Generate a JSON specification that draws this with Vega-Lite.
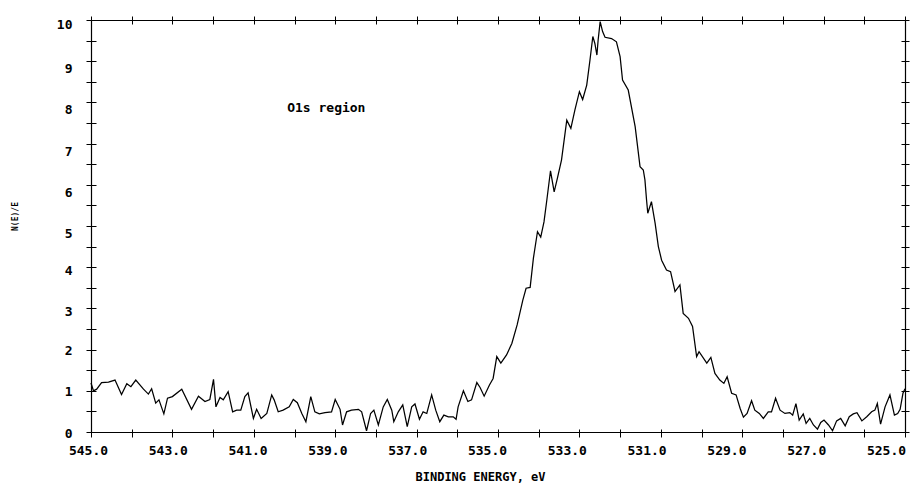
{
  "$schema": "https://vega.github.io/schema/vega-lite/v6.json",
  "width": 814,
  "height": 412,
  "autosize": {"type": "none"},
  "padding": {"left": 91, "top": 20, "right": 8, "bottom": 53},
  "background": "white",
  "config": {
    "view": {"stroke": null},
    "axis": {
      "grid": false,
      "domainColor": "black",
      "tickColor": "black",
      "labelColor": "black",
      "titleColor": "black",
      "labelFont": "DejaVu Sans Mono",
      "titleFont": "DejaVu Sans Mono",
      "domainWidth": 1.2,
      "tickWidth": 1
    }
  },
  "datasets": {
    "spectrum": [
      {"be": 545.00, "n": 1.19}, {"be": 544.94, "n": 1.00}, {"be": 544.86, "n": 1.04}, {"be": 544.74, "n": 1.20},
      {"be": 544.57, "n": 1.21}, {"be": 544.41, "n": 1.26}, {"be": 544.25, "n": 0.91}, {"be": 544.12, "n": 1.17},
      {"be": 544.02, "n": 1.10}, {"be": 543.90, "n": 1.26}, {"be": 543.71, "n": 1.04}, {"be": 543.59, "n": 0.92},
      {"be": 543.51, "n": 1.05}, {"be": 543.41, "n": 0.70}, {"be": 543.33, "n": 0.78}, {"be": 543.21, "n": 0.44},
      {"be": 543.12, "n": 0.82}, {"be": 543.00, "n": 0.86}, {"be": 542.77, "n": 1.04}, {"be": 542.53, "n": 0.55},
      {"be": 542.36, "n": 0.87}, {"be": 542.20, "n": 0.74}, {"be": 542.08, "n": 0.79}, {"be": 541.99, "n": 1.28},
      {"be": 541.93, "n": 0.61}, {"be": 541.83, "n": 0.84}, {"be": 541.75, "n": 0.78}, {"be": 541.63, "n": 0.98},
      {"be": 541.52, "n": 0.49}, {"be": 541.42, "n": 0.53}, {"be": 541.32, "n": 0.53}, {"be": 541.22, "n": 0.86},
      {"be": 541.14, "n": 0.95}, {"be": 541.01, "n": 0.33}, {"be": 540.93, "n": 0.55}, {"be": 540.82, "n": 0.33},
      {"be": 540.68, "n": 0.45}, {"be": 540.56, "n": 0.90}, {"be": 540.50, "n": 0.78}, {"be": 540.40, "n": 0.49},
      {"be": 540.28, "n": 0.53}, {"be": 540.13, "n": 0.61}, {"be": 540.03, "n": 0.79}, {"be": 539.93, "n": 0.71},
      {"be": 539.82, "n": 0.45}, {"be": 539.72, "n": 0.25}, {"be": 539.60, "n": 0.86}, {"be": 539.50, "n": 0.49},
      {"be": 539.39, "n": 0.44}, {"be": 539.25, "n": 0.47}, {"be": 539.09, "n": 0.49}, {"be": 539.00, "n": 0.79},
      {"be": 538.88, "n": 0.55}, {"be": 538.82, "n": 0.17}, {"be": 538.72, "n": 0.49}, {"be": 538.60, "n": 0.53},
      {"be": 538.43, "n": 0.55}, {"be": 538.35, "n": 0.49}, {"be": 538.23, "n": 0.03}, {"be": 538.13, "n": 0.45},
      {"be": 538.05, "n": 0.53}, {"be": 537.94, "n": 0.17}, {"be": 537.82, "n": 0.61}, {"be": 537.72, "n": 0.79},
      {"be": 537.61, "n": 0.53}, {"be": 537.56, "n": 0.25}, {"be": 537.45, "n": 0.49}, {"be": 537.34, "n": 0.66},
      {"be": 537.23, "n": 0.13}, {"be": 537.12, "n": 0.61}, {"be": 537.04, "n": 0.68}, {"be": 536.93, "n": 0.31},
      {"be": 536.84, "n": 0.49}, {"be": 536.75, "n": 0.45}, {"be": 536.63, "n": 0.90}, {"be": 536.53, "n": 0.53},
      {"be": 536.43, "n": 0.25}, {"be": 536.33, "n": 0.41}, {"be": 536.22, "n": 0.37}, {"be": 536.10, "n": 0.37},
      {"be": 536.03, "n": 0.31}, {"be": 535.98, "n": 0.61}, {"be": 535.85, "n": 1.00}, {"be": 535.74, "n": 0.74},
      {"be": 535.65, "n": 0.78}, {"be": 535.52, "n": 1.20}, {"be": 535.44, "n": 1.08}, {"be": 535.34, "n": 0.87},
      {"be": 535.21, "n": 1.14}, {"be": 535.12, "n": 1.30}, {"be": 535.03, "n": 1.83}, {"be": 534.93, "n": 1.67},
      {"be": 534.79, "n": 1.87}, {"be": 534.66, "n": 2.15}, {"be": 534.53, "n": 2.60}, {"be": 534.39, "n": 3.20},
      {"be": 534.31, "n": 3.49}, {"be": 534.21, "n": 3.51}, {"be": 534.13, "n": 4.22}, {"be": 534.03, "n": 4.86},
      {"be": 533.95, "n": 4.73}, {"be": 533.87, "n": 5.10}, {"be": 533.80, "n": 5.63}, {"be": 533.71, "n": 6.34},
      {"be": 533.62, "n": 5.83}, {"be": 533.54, "n": 6.16}, {"be": 533.44, "n": 6.60}, {"be": 533.31, "n": 7.57},
      {"be": 533.21, "n": 7.37}, {"be": 533.11, "n": 7.82}, {"be": 533.00, "n": 8.26}, {"be": 532.92, "n": 8.07},
      {"be": 532.82, "n": 8.42}, {"be": 532.74, "n": 9.03}, {"be": 532.67, "n": 9.60}, {"be": 532.62, "n": 9.43},
      {"be": 532.57, "n": 9.15}, {"be": 532.54, "n": 9.51}, {"be": 532.49, "n": 9.96}, {"be": 532.43, "n": 9.72},
      {"be": 532.37, "n": 9.58}, {"be": 532.21, "n": 9.55}, {"be": 532.09, "n": 9.47}, {"be": 532.00, "n": 9.11},
      {"be": 531.94, "n": 8.54}, {"be": 531.80, "n": 8.30}, {"be": 531.63, "n": 7.41}, {"be": 531.51, "n": 6.44},
      {"be": 531.43, "n": 6.36}, {"be": 531.39, "n": 6.12}, {"be": 531.35, "n": 5.63}, {"be": 531.32, "n": 5.31},
      {"be": 531.23, "n": 5.59}, {"be": 531.14, "n": 5.07}, {"be": 531.06, "n": 4.50}, {"be": 530.98, "n": 4.17},
      {"be": 530.86, "n": 3.93}, {"be": 530.76, "n": 3.89}, {"be": 530.65, "n": 3.41}, {"be": 530.53, "n": 3.57},
      {"be": 530.45, "n": 2.88}, {"be": 530.32, "n": 2.76}, {"be": 530.22, "n": 2.56}, {"be": 530.12, "n": 1.83},
      {"be": 530.06, "n": 1.95}, {"be": 529.87, "n": 1.67}, {"be": 529.77, "n": 1.81}, {"be": 529.67, "n": 1.42},
      {"be": 529.55, "n": 1.26}, {"be": 529.45, "n": 1.18}, {"be": 529.37, "n": 1.34}, {"be": 529.26, "n": 0.94},
      {"be": 529.15, "n": 0.90}, {"be": 529.05, "n": 0.57}, {"be": 528.97, "n": 0.36}, {"be": 528.88, "n": 0.45},
      {"be": 528.77, "n": 0.76}, {"be": 528.69, "n": 0.53}, {"be": 528.58, "n": 0.45}, {"be": 528.48, "n": 0.33},
      {"be": 528.36, "n": 0.49}, {"be": 528.28, "n": 0.49}, {"be": 528.18, "n": 0.82}, {"be": 528.07, "n": 0.53},
      {"be": 527.95, "n": 0.45}, {"be": 527.83, "n": 0.47}, {"be": 527.76, "n": 0.41}, {"be": 527.68, "n": 0.69},
      {"be": 527.60, "n": 0.29}, {"be": 527.50, "n": 0.44}, {"be": 527.43, "n": 0.21}, {"be": 527.34, "n": 0.33},
      {"be": 527.25, "n": 0.17}, {"be": 527.15, "n": 0.07}, {"be": 527.07, "n": 0.23}, {"be": 526.99, "n": 0.29},
      {"be": 526.88, "n": 0.17}, {"be": 526.78, "n": 0.03}, {"be": 526.68, "n": 0.27}, {"be": 526.58, "n": 0.33},
      {"be": 526.47, "n": 0.15}, {"be": 526.37, "n": 0.37}, {"be": 526.27, "n": 0.44}, {"be": 526.18, "n": 0.47},
      {"be": 526.06, "n": 0.27}, {"be": 525.94, "n": 0.37}, {"be": 525.82, "n": 0.49}, {"be": 525.74, "n": 0.53},
      {"be": 525.68, "n": 0.69}, {"be": 525.60, "n": 0.19}, {"be": 525.49, "n": 0.61}, {"be": 525.37, "n": 0.90},
      {"be": 525.26, "n": 0.41}, {"be": 525.18, "n": 0.45}, {"be": 525.12, "n": 0.55}, {"be": 525.05, "n": 0.94},
      {"be": 525.00, "n": 1.05}
    ]
  },
  "data": {"name": "spectrum"},
  "layer": [
    {
      "mark": {"type": "line", "color": "black", "strokeWidth": 1.25},
      "encoding": {
        "x": {
          "field": "be", "type": "quantitative",
          "scale": {"domain": [525, 545], "reverse": true, "nice": false, "zero": false},
          "axis": {
            "orient": "bottom",
            "values": [525,526,527,528,529,530,531,532,533,534,535,536,537,538,539,540,541,542,543,544,545],
            "labelExpr": "datum.value % 2 == 1 ? format(datum.value, '.1f') : ''",
            "labelOffset": {"expr": "-3 - (545 - datum.value) * 0.8"},
            "tickSize": 5, "labelPadding": 7, "labelFontSize": 13, "labelFontWeight": "bold",
            "labelFlush": false, "labelOverlap": false,
            "title": "BINDING ENERGY, eV", "titleFontSize": 12, "titleFontWeight": "bold",
            "titleX": 389, "titleY": 44, "titleBaseline": "middle", "titleAlign": "center"
          }
        },
        "y": {
          "field": "n", "type": "quantitative",
          "scale": {"domain": [0, 10], "nice": false},
          "axis": {
            "orient": "left",
            "values": [0,0.5,1,1.5,2,2.5,3,3.5,4,4.5,5,5.5,6,6.5,7,7.5,8,8.5,9,9.5,10],
            "labelExpr": "datum.value % 1 == 0 ? format(datum.value, 'd') : ''",
            "labelOffset": {"expr": "datum.value <= 2 ? 1 : datum.value <= 4 ? 3 : datum.value == 10 ? 4 : 7.5"},
            "tickSize": 5, "labelPadding": 14, "labelFontSize": 13, "labelFontWeight": "bold",
            "labelFlush": false, "labelOverlap": false,
            "title": "N(E)/E", "titleFontSize": 8, "titleFontWeight": "bold",
            "titleX": -76, "titleY": 196, "titleAngle": 270, "titleBaseline": "middle", "titleAlign": "center"
          }
        }
      }
    },
    {
      "mark": {"type": "line", "opacity": 0},
      "encoding": {
        "x": {
          "field": "be", "type": "quantitative",
          "axis": {
            "orient": "bottom",
            "values": [525,526,527,528,529,530,531,532,533,534,535,536,537,538,539,540,541,542,543,544,545],
            "tickSize": -3, "labels": false, "domain": false, "title": null
          }
        },
        "y": {
          "field": "n", "type": "quantitative",
          "axis": {
            "orient": "left",
            "values": [0,0.5,1,1.5,2,2.5,3,3.5,4,4.5,5,5.5,6,6.5,7,7.5,8,8.5,9,9.5,10],
            "tickSize": -5, "labels": false, "domain": false, "title": null
          }
        }
      }
    },
    {
      "mark": {"type": "line", "opacity": 0},
      "encoding": {
        "x": {
          "field": "be", "type": "quantitative",
          "axis": {
            "orient": "top",
            "values": [525,526,527,528,529,530,531,532,533,534,535,536,537,538,539,540,541,542,543,544,545],
            "tickSize": 4, "labels": false, "domain": true, "title": null
          }
        },
        "y": {
          "field": "n", "type": "quantitative",
          "axis": {
            "orient": "right",
            "values": [0,0.5,1,1.5,2,2.5,3,3.5,4,4.5,5,5.5,6,6.5,7,7.5,8,8.5,9,9.5,10],
            "tickSize": 4, "labels": false, "domain": true, "title": null
          }
        }
      }
    },
    {
      "mark": {"type": "line", "opacity": 0},
      "encoding": {
        "x": {
          "field": "be", "type": "quantitative",
          "axis": {
            "orient": "top",
            "values": [525,526,527,528,529,530,531,532,533,534,535,536,537,538,539,540,541,542,543,544,545],
            "tickSize": -4, "labels": false, "domain": false, "title": null
          }
        },
        "y": {
          "field": "n", "type": "quantitative",
          "axis": {
            "orient": "right",
            "values": [0,0.5,1,1.5,2,2.5,3,3.5,4,4.5,5,5.5,6,6.5,7,7.5,8,8.5,9,9.5,10],
            "tickSize": -4, "labels": false, "domain": false, "title": null
          }
        }
      }
    },
    {
      "data": {"values": [{"label": "O1s region"}]},
      "mark": {"type": "text", "font": "DejaVu Sans Mono", "fontSize": 13, "fontWeight": "bold", "align": "left", "baseline": "middle", "color": "black"},
      "encoding": {
        "x": {"datum": 540.18, "type": "quantitative", "axis": null},
        "y": {"datum": 7.86, "type": "quantitative", "axis": null},
        "text": {"field": "label"}
      }
    }
  ],
  "resolve": {"axis": {"x": "independent", "y": "independent"}}
}
